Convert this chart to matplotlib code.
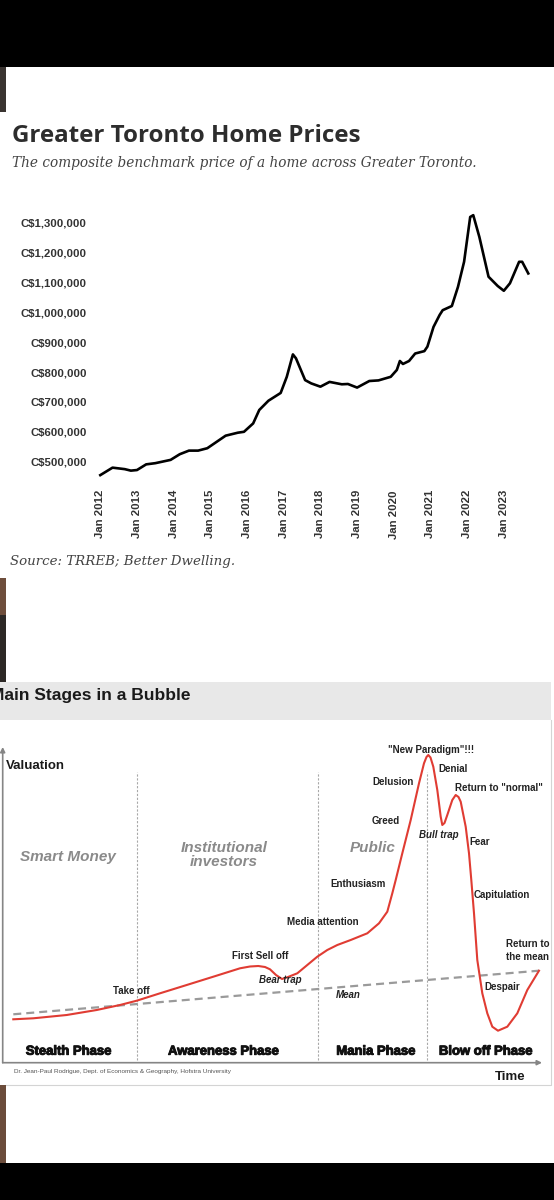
import matplotlib.pyplot as plt
import matplotlib.patheffects as pe
from matplotlib.patches import Rectangle

W, H = 554, 1200  # output size in pixels

# ---- Greater Toronto benchmark price (months since Jan 2012, C$ thousands) ----
months = [0, 4, 8, 10, 12, 15, 18, 23, 26, 29, 32, 35, 39, 41, 45, 47, 50, 52, 55, 59,
          61, 63, 64, 67, 69, 72, 75, 79, 81, 84, 88, 91, 95, 97, 98, 99, 101, 103, 106,
          107, 109, 111, 112, 115, 117, 119, 121, 122, 124, 127, 130, 132, 134, 137, 138, 140]
prices = [455, 480, 475, 470, 472, 491, 495, 506, 525, 537, 537, 545, 573, 587, 597, 600,
          628, 673, 704, 730, 784, 859, 846, 773, 762, 751, 767, 759, 760, 748, 770, 772,
          784, 807, 837, 827, 837, 862, 870, 885, 951, 991, 1007, 1021, 1085, 1169, 1319,
          1325, 1252, 1119, 1088, 1072, 1097, 1169, 1169, 1130]
year_ticks = [0, 12, 24, 36, 48, 60, 72, 84, 96, 108, 120, 132]
year_labels = ['Jan %d' % (2012 + i) for i in range(12)]
price_ticks = [500, 600, 700, 800, 900, 1000, 1100, 1200, 1300]

# ---- "Main Stages in a Bubble" schematic (time, valuation in arbitrary units) ----
bubble_t = [13.3, 33.3, 66.7, 96.7, 120, 136.7, 160, 186.7, 213.3, 240, 250, 258.3, 265,
            270, 276, 282, 288, 297.3, 307.3, 317.3, 327.3, 337.3, 350.7, 367.3, 379,
            387.3, 392.3, 395.7, 402.3, 410.7, 419, 424, 426.5, 428.3, 430.5, 433.3, 437.3,
            440.7, 442.3, 444.5, 447.3, 452.3, 455.7, 458.5, 460.7, 465.7, 469, 471.3, 474,
            477.3, 482.3, 487.3, 492.3, 498, 507.3, 517.3, 527.3, 539]
bubble_v = [65.7, 66.7, 70, 75, 80, 84.3, 91.7, 100, 108.3, 116.7, 118.5, 119, 118,
            115.7, 110, 106, 108, 111.7, 120, 128.3, 135, 140, 145, 151.7, 161.7,
            173.3, 191.7, 205, 231.7, 265, 301.7, 321.7, 328, 330, 327.5, 318.3, 295,
            268.3, 260, 262, 270, 285, 290, 288, 283.3, 258.3, 231.7, 205, 171.7,
            125, 91.7, 71.7, 58.3, 54.3, 58.3, 71.7, 95, 114.3]
mean_t = [13.3, 539]
mean_v = [70.7, 114.3]
phase_bounds = [136.7, 318.3, 427.3]
phase_names = ['Stealth Phase', 'Awareness Phase', 'Mania Phase', 'Blow off Phase']
phase_centers = [68.3, 223.3, 375.7, 485.5]

fig = plt.figure(figsize=(W / 100, H / 100), dpi=100)
fig.patch.set_facecolor('white')


def fx(x):
    return x / W


def fy(y):
    return 1 - y / H


def page_rect(x0, y0, x1, y1, color):
    fig.patches.append(Rectangle((fx(x0), fy(y1)), (x1 - x0) / W, (y1 - y0) / H,
                                 transform=fig.transFigure, facecolor=color,
                                 edgecolor='none', zorder=0))


# phone screenshot frame
page_rect(0, 0, W, 66.7, 'black')
page_rect(0, 1162.7, W, H, 'black')
page_rect(0, 66.7, 6.4, 111.7, '#3a3431')
page_rect(0, 578.3, 6.4, 615, '#6e4e3c')
page_rect(0, 615, 6.4, 681.7, '#2c2826')
page_rect(0, 1085, 6.4, 1162.7, '#6b4c3b')

# ================= chart 1 =================
fig.text(fx(12), fy(141.7), 'Greater Toronto Home Prices', fontfamily='Open Sans',
         fontweight='bold', fontsize=17.4, color='#2d2d2d', va='baseline')
fig.text(fx(12), fy(167.5), 'The composite benchmark price of a home across Greater Toronto.',
         fontfamily='DejaVu Serif', style='italic', fontsize=9.8, color='#444444',
         va='baseline')
fig.text(fx(10.5), fy(564.5), 'Source: TRREB; Better Dwelling.', fontfamily='DejaVu Serif',
         style='italic', fontsize=9.6, color='#444444', va='baseline')

px_month = 3.057
x_left = 100.3 - px_month
x_right = 100.3 + 142 * px_month
ax1 = fig.add_axes([fx(x_left), fy(479.6), (x_right - x_left) / W, (479.6 - 210.7) / H])
ax1.plot(months, prices, color='black', lw=1.9, solid_joinstyle='round')
ax1.set_xlim(-1, 142)
ax1.set_ylim(440, 1340)
ax1.set_xticks(year_ticks)
ax1.set_xticklabels(year_labels, rotation=90)
ax1.set_yticks(price_ticks)
ax1.set_yticklabels(['C${:,}'.format(v * 1000) for v in price_ticks])
ax1.tick_params(length=0, pad=7.5, labelsize=8.2, labelcolor='#333333')
for lab in ax1.get_xticklabels() + ax1.get_yticklabels():
    lab.set_fontfamily('Liberation Sans')
    lab.set_fontweight('bold')
for s in ax1.spines.values():
    s.set_visible(False)
ax1.patch.set_alpha(0)

# ================= chart 2 =================
page_rect(0, 681.7, 551, 720, '#e8e8e8')
fig.text(fx(-10), fy(700), 'Main Stages in a Bubble', fontfamily='Liberation Sans',
         fontweight='bold', fontsize=12.5, color='#1a1a1a', va='baseline')

ax2 = fig.add_axes([0, fy(1085), 1, 402 / H])
ax2.set_xlim(0, W)
ax2.set_ylim(0, 402)
ax2.axis('off')

# picture border
ax2.plot([6.4, 550.7, 550.7], [0, 0, 365], color='#d4d4d4', lw=0.8, clip_on=False)

# axes arrows
arrow = dict(arrowstyle='-|>', color='#858585', lw=1.2, mutation_scale=7,
             shrinkA=0, shrinkB=0)
ax2.annotate('', xy=(2.7, 338), xytext=(2.7, 22.3), arrowprops=arrow)
ax2.annotate('', xy=(542, 22.3), xytext=(2.7, 22.3), arrowprops=arrow)

ax2.vlines(phase_bounds, 25, 313.3, colors='#a8a8a8', linestyles=(0, (2, 1.5)), lw=0.8)
ax2.plot(mean_t, mean_v, color='#9a9a9a', lw=1.6, dashes=(3.6, 2.25))
ax2.plot(bubble_t, bubble_v, color='#e03c33', lw=1.5, solid_joinstyle='round')

lab = dict(fontfamily='Liberation Sans', fontweight='bold', fontsize=7, color='#222222',
           va='center')
lab_it = dict(lab, style='italic')
grey = dict(fontfamily='Liberation Sans', fontweight='bold', style='italic', fontsize=11,
            color='#8a8a8a', va='center', ha='center')

ax2.text(6, 319, 'Valuation', fontfamily='Liberation Sans', fontweight='bold',
         fontsize=9.5, color='#1a1a1a', va='center')
ax2.text(67.5, 228.3, 'Smart Money', **grey)
ax2.text(224, 230, 'Institutional\ninvestors', linespacing=1.05, **grey)
ax2.text(372.8, 237.3, 'Public', **grey)

ax2.text(131.7, 94.3, 'Take off', ha='center', **lab)
ax2.text(231.7, 129, 'First Sell off', ha='left', **lab)
ax2.text(259, 105, 'Bear trap', ha='left', **lab_it)
ax2.text(322.8, 162.7, 'Media attention', ha='center', **lab)
ax2.text(330.7, 201, 'Enthusiasm', ha='left', **lab)
ax2.text(348.5, 90, 'Mean', ha='center', **lab_it)
ax2.text(386, 264.3, 'Greed', ha='center', **lab)
ax2.text(392.8, 303.3, 'Delusion', ha='center', **lab)
ax2.text(430.7, 335, '"New Paradigm"!!!', ha='center', **lab)
ax2.text(438, 315.7, 'Denial', ha='left', **lab)
ax2.text(455, 296.7, 'Return to "normal"', ha='left', **lab)
ax2.text(439, 250, 'Bull trap', ha='center', **lab_it)
ax2.text(469, 243.3, 'Fear', ha='left', **lab)
ax2.text(474, 190, 'Capitulation', ha='left', **lab)
ax2.text(505.7, 134.7, 'Return to\nthe mean', ha='left', linespacing=1.4, **lab)
ax2.text(484.7, 97.7, 'Despair', ha='left', **lab)

# heavy condensed phase captions
heavy = [pe.withStroke(linewidth=0.7, foreground='#111111')]
for name, c in zip(phase_names, phase_centers):
    ax2.text(c, 33.3, name, ha='center', va='center', fontfamily='Liberation Sans',
             fontweight='bold', fontsize=9.4, color='#111111', path_effects=heavy)

ax2.text(509.8, 7.7, 'Time', ha='center', va='center', fontfamily='Liberation Sans',
         fontweight='bold', fontsize=9.5, color='#1a1a1a')
ax2.text(14, 13.3, 'Dr. Jean-Paul Rodrigue, Dept. of Economics & Geography, Hofstra University',
         fontfamily='Liberation Sans', fontsize=4.6, color='#555555', va='center')

fig.savefig('out.png', dpi=100)
